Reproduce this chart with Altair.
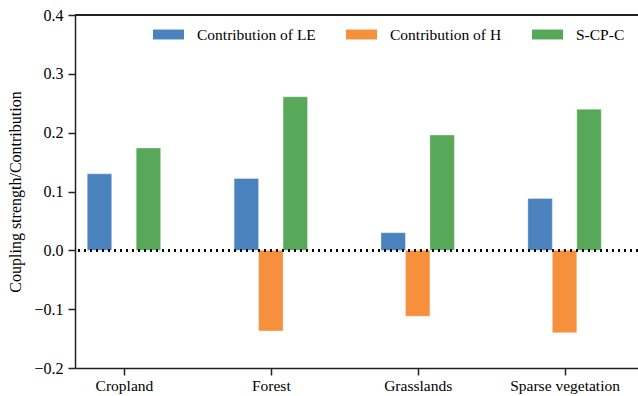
import altair as alt
import pandas as pd

# Land-cover classes and the three series drawn for each
categories = ["Cropland", "Forest", "Grasslands", "Sparse vegetation"]
series = ["Contribution of LE", "Contribution of H", "S-CP-C"]
contribution_le = [0.130, 0.122, 0.030, 0.088]
contribution_h = [None, -0.137, -0.112, -0.140]
s_cp_c = [0.174, 0.261, 0.196, 0.240]
colors = ["#4A82BE", "#F7903C", "#58A85A"]

BAR_W = 1 / 6  # bar width in category units; bars in a group sit side by side

rows = []
for k, (name, vals) in enumerate(zip(series, [contribution_le, contribution_h, s_cp_c])):
    for i, v in enumerate(vals):
        if v is None:
            continue
        center = i + (k - 1) * BAR_W
        rows.append({
            "category": categories[i],
            "series": name,
            "value": v,
            "x0": center - BAR_W / 2,
            "x1": center + BAR_W / 2,
        })
df = pd.DataFrame(rows)

FONT = "Liberation Serif"
label_expr = "[" + ",".join(f"'{c}'" for c in categories) + "][datum.value]"
y_label_expr = "(datum.value < 0 ? '\u2212' : '') + format(abs(datum.value), '.1f')"

x_scale = alt.Scale(domain=[-1 / 3, 3.5], nice=False, zero=False)
y_scale = alt.Scale(domain=[-0.2, 0.4], nice=False)

bars = alt.Chart(df).mark_bar(stroke="white", strokeOpacity=0.35, strokeWidth=1).encode(
    x=alt.X(
        "x0:Q",
        scale=x_scale,
        axis=alt.Axis(
            values=[0, 1, 2, 3],
            labelExpr=label_expr,
            title=None,
            grid=False,
            labelFont=FONT,
            labelFontSize=15.5,
            labelPadding=3,
        ),
    ),
    x2="x1:Q",
    y=alt.Y(
        "value:Q",
        scale=y_scale,
        axis=alt.Axis(
            values=[-0.2, -0.1, 0.0, 0.1, 0.2, 0.3, 0.4],
            labelExpr=y_label_expr,
            title="Coupling strength/Contribution",
            grid=False,
            labelFont=FONT,
            titleFont=FONT,
            labelFontSize=16,
            titleFontSize=16,
            titleFontWeight="normal",
            labelPadding=5,
            titlePadding=10,
        ),
    ),
    y2=alt.datum(0),
    color=alt.Color(
        "series:N",
        scale=alt.Scale(domain=series, range=colors),
        legend=alt.Legend(
            title=None,
            orient="none",
            direction="horizontal",
            legendX=78,
            legendY=4,
            symbolType="M-1,-0.32H1V0.32H-1Z",
            symbolSize=961,
            symbolStrokeWidth=0,
            symbolOpacity=1,
            labelFont=FONT,
            labelFontSize=15.5,
            labelOffset=13,
            columnPadding=30,
            padding=0,
        ),
    ),
)

zero_line = alt.Chart(df).mark_rule(
    color="black", strokeDash=[2, 4], strokeWidth=2
).encode(y=alt.datum(0))

top_line = alt.Chart(df).mark_rule(color="#222222", strokeWidth=1.5).encode(
    y=alt.datum(0.4)
)

chart = (
    alt.layer(bars, zero_line, top_line)
    .properties(
        width=563,
        height=353,
        autosize=alt.AutoSizeParams(type="none"),
        padding={"left": 75, "top": 15, "right": 0, "bottom": 28},
    )
    .configure(font=FONT)
    .configure_view(stroke=None)
    .configure_axis(
        labelColor="black",
        titleColor="black",
        domainColor="#222222",
        domainWidth=1.5,
        tickColor="#222222",
        tickWidth=1.5,
        tickSize=7,
    )
    .configure_legend(labelColor="black")
)

chart.save("out.html", embed_options={"renderer": "svg", "actions": False})
